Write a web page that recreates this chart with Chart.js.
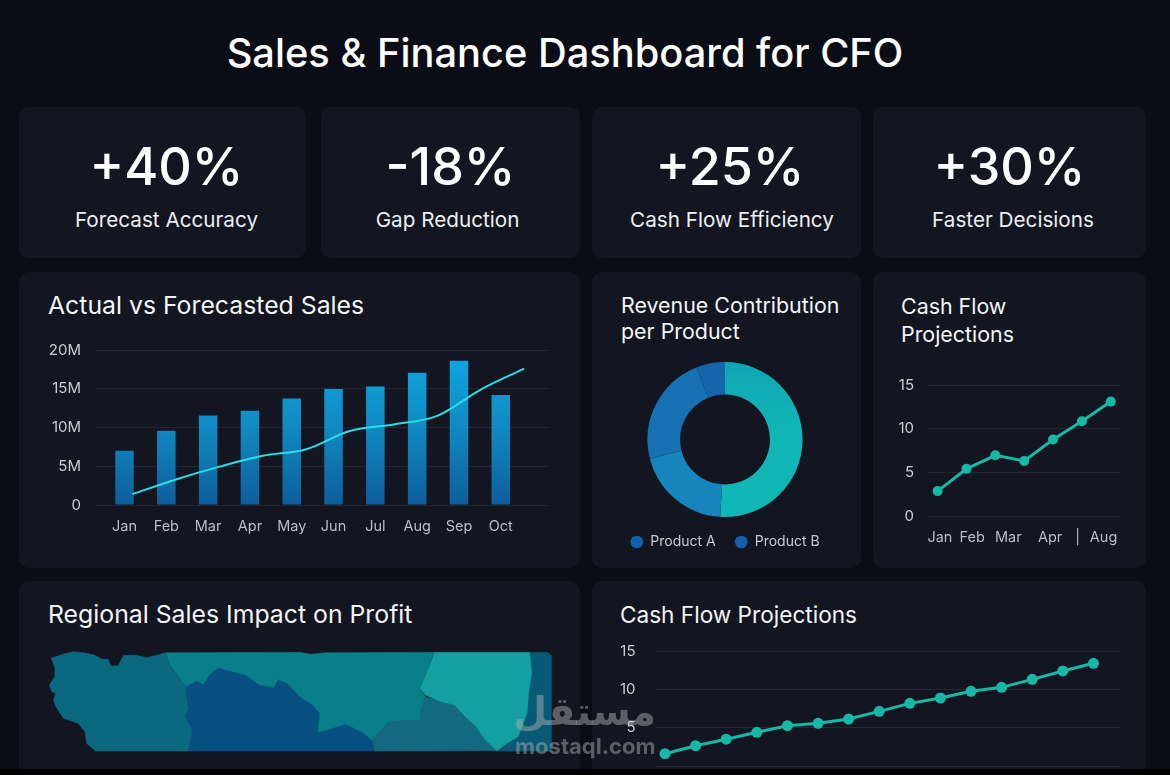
<!DOCTYPE html>
<html><head><meta charset="utf-8">
<script src="https://cdn.jsdelivr.net/npm/chart.js@4"></script>
<style>
html,body{margin:0;padding:0;background:#000;}
body{position:relative;width:1170px;height:775px;overflow:hidden;font-family:Inter,sans-serif;color:#fff;}
#bg{position:absolute;left:0;top:0;width:1170px;height:769px;background:#0b0d16;}
.card{position:absolute;background:#131621;border-radius:10px;}
.t{position:absolute;white-space:nowrap;}
.kv{font-size:52px;font-weight:500;text-align:center;line-height:60px;}
.kl{font-size:20.7px;text-align:center;color:#eceef2;line-height:26px;}
.h{font-size:24.8px;color:#f4f5f7;line-height:27px;}
canvas{position:absolute;display:block;}
.wm{position:absolute;color:rgba(165,167,173,.5);font-weight:700;white-space:nowrap;}
</style></head><body>
<div id="bg"></div>
<div class="t" style="left:0;width:1130px;top:26px;text-align:center;font-size:39.8px;font-weight:500;line-height:54px;">Sales &amp; Finance Dashboard for CFO</div>

<div class="card" style="left:19px;top:107px;width:287px;height:151px"></div>
<div class="card" style="left:321px;top:107px;width:259px;height:151px"></div>
<div class="card" style="left:592px;top:107px;width:269px;height:151px"></div>
<div class="card" style="left:873px;top:107px;width:273px;height:151px"></div>
<div class="card" style="left:19px;top:272px;width:561px;height:296px"></div>
<div class="card" style="left:592px;top:272px;width:269px;height:296px"></div>
<div class="card" style="left:873px;top:272px;width:273px;height:296px"></div>
<div class="card" style="left:19px;top:581px;width:561px;height:188px;border-radius:10px 10px 0 0"></div>
<div class="card" style="left:592px;top:581px;width:554px;height:188px;border-radius:10px 10px 0 0"></div>

<div class="t kv" style="left:19px;width:295px;top:137px">+40%</div>
<div class="t kl" style="left:19px;width:295px;top:207px">Forecast Accuracy</div>
<div class="t kv" style="left:321px;width:259px;top:137px">-18%</div>
<div class="t kl" style="left:318px;width:259px;top:207px">Gap Reduction</div>
<div class="t kv" style="left:592px;width:276px;top:137px">+25%</div>
<div class="t kl" style="left:592px;width:280px;top:207px">Cash Flow Efficiency</div>
<div class="t kv" style="left:873px;width:273px;top:137px">+30%</div>
<div class="t kl" style="left:873px;width:280px;top:207px">Faster Decisions</div>

<div class="t h" style="left:48px;top:292px">Actual vs Forecasted Sales</div>
<div class="t h" style="left:621px;top:292px;font-size:21.4px">Revenue Contribution</div>
<div class="t h" style="left:621px;top:318px;font-size:21.4px">per Product</div>
<div class="t h" style="left:901px;top:293px;font-size:21.4px">Cash Flow</div>
<div class="t h" style="left:901px;top:321px;font-size:21.4px">Projections</div>
<div class="t h" style="left:48px;top:601px">Regional Sales Impact on Profit</div>
<div class="t h" style="left:620px;top:601px;font-size:22.6px">Cash Flow Projections</div>

<canvas id="c1" width="561" height="240" style="left:19px;top:328px"></canvas>
<canvas id="c2" width="269" height="208" style="left:592px;top:352px"></canvas>
<canvas id="c3" width="273" height="190" style="left:873px;top:370px"></canvas>
<canvas id="c4" width="570" height="195" style="left:20px;top:580px"></canvas>

<div class="wm" dir="rtl" style="left:514px;top:684px;width:142px;text-align:center;font-size:39px;line-height:56px;font-family:'DejaVu Sans',sans-serif">مستقل</div>
<div class="wm" style="left:515px;top:734px;font-size:22px;line-height:24px;font-family:Inter,sans-serif">mostaql.com</div>

<canvas id="c5" width="554" height="195" style="left:592px;top:580px"></canvas>
<div style="position:absolute;left:0;top:769px;width:1170px;height:6px;background:#000"></div>

<script>
// ---------- data ----------
const salesMonths = ["Jan","Feb","Mar","Apr","May","Jun","Jul","Aug","Sep","Oct"];
const actualSales = [7.0,9.57,11.55,12.15,13.75,14.96,15.3,17.07,18.6,14.2];
const forecastSales = [1.4,3.3,4.95,6.35,7.2,9.55,10.4,11.5,14.9,17.6];
const forecastAt = [0.19,1.23,2.27,3.31,4.35,5.39,6.44,7.48,8.52,9.56];

const productLabels = ["Product A","Product B","Product C","Product D"];
const productShares = [51,20,23,6];

const cashLabels = ["Jan","Feb","Mar","Apr","|","Aug"];
const cashValues = [2.85,5.4,6.95,6.3,8.75,10.85,13.1];

const longCashValues = [1.6,2.65,3.5,4.4,5.26,5.57,6.13,7.13,8.17,8.87,9.74,10.26,11.3,12.4,13.4];

const regionWest = [[85,235],[120,222],[147,215],[175,218],[205,225],[225,237],[243,238],[250,258],[270,257],[285,226],[320,226],[350,233],[401,218],[412,255],[440,295],[456,320],[458,350],[463,385],[454,410],[474,450],[463,513],[208,513],[183,490],[179,455],[160,430],[119,415],[99,380],[92,360],[98,340],[87,335],[81,315],[96,290],[96,265]];
const regionCentral = [[401,218],[770,217],[800,223],[840,218],[1140,217],[1125,260],[1100,325],[1115,350],[1100,400],[1100,422],[1060,420],[1015,425],[990,455],[968,480],[940,455],[895,432],[860,445],[820,457],[825,400],[805,375],[770,350],[735,310],[710,298],[698,322],[660,315],[620,285],[575,272],[545,263],[520,285],[505,312],[485,303],[456,320],[440,295],[412,255]];
const regionSouth = [[456,320],[485,303],[505,312],[520,285],[545,263],[575,272],[620,285],[660,315],[698,322],[710,298],[735,310],[770,350],[805,375],[825,400],[820,457],[860,445],[895,432],[940,455],[968,480],[973,513],[463,513],[474,450],[454,410],[463,385],[458,350]];
const regionNorthEast = [[1140,217],[1402,217],[1408,280],[1400,330],[1395,400],[1370,470],[1340,490],[1312,512],[1280,480],[1255,440],[1225,410],[1195,375],[1150,362],[1115,345],[1100,325],[1125,260]];
const regionSouthEast = [[1100,422],[1100,400],[1115,350],[1150,362],[1195,375],[1225,410],[1255,440],[1280,480],[1312,512],[973,513],[968,480],[990,455],[1015,425],[1060,420]];
const regionEast = [[1402,217],[1450,217],[1461,225],[1461,513],[1312,513],[1340,490],[1370,470],[1395,400],[1400,330],[1408,280]];

// ---------- shared ----------
Chart.defaults.font.family = "Inter, sans-serif";
Chart.defaults.animation = false;
Chart.defaults.responsive = false;
const gridColor = "rgba(255,255,255,0.075)";
const yTick = "#c9ccd3", xTick = "#b9bdc6";
const pts = a => a.map((v,i)=>({x:i,y:v}));
const noPlug = {legend:{display:false},tooltip:{enabled:false},title:{display:false}};
const fixW = w => function(s){s.width=w;};
const fixH = h => function(s){s.height=h;};
const yGrid = gap => ({color:gridColor,drawTicks:true,tickLength:gap,tickColor:"transparent"});

// ---------- actual vs forecast ----------
new Chart(document.getElementById("c1"),{
  data:{datasets:[
    {type:"line",label:"Forecasted",data:forecastSales.map((v,i)=>({x:forecastAt[i],y:v})),borderColor:"#2bdde6",borderWidth:2,pointRadius:0,cubicInterpolationMode:"monotone",order:0},
    {type:"bar",label:"Actual",data:pts(actualSales),categoryPercentage:1,barPercentage:0.4426,order:1,
     backgroundColor(c){const a=c.chart.chartArea;if(!a)return "#0e8fc8";
       const g=c.chart.ctx.createLinearGradient(0,a.top+15,0,a.bottom);
       g.addColorStop(0,"#0ea3dc");g.addColorStop(.45,"#1189c2");g.addColorStop(1,"#0d5e9b");return g;}}
  ]},
  options:{
    layout:{padding:{top:22,right:32,left:0,bottom:0}},
    plugins:noPlug,
    scales:{
      x:{type:"linear",offset:false,min:-0.706,max:10.13,afterFit:fixH(63),
         afterBuildTicks(s){s.ticks=salesMonths.map((m,i)=>({value:i}));},
         ticks:{callback:v=>salesMonths[v],color:xTick,font:{size:14.5},padding:5,maxRotation:0,autoSkip:false},
         grid:{display:false},border:{display:false}},
      y:{min:0,max:20,afterFit:fixW(76),
         ticks:{stepSize:5,callback:v=>v===0?"0":v+"M",color:yTick,font:{size:15},padding:0},
         grid:yGrid(14),border:{display:false}}
    }
  }
});

// ---------- donut ----------
const legendColor = "#1560ab";
new Chart(document.getElementById("c2"),{
  type:"doughnut",
  plugins:[{id:"legendShift",afterLayout(ch){ch.legend.top-=1;}}],
  data:{labels:productLabels,datasets:[{data:productShares,borderWidth:0,
    backgroundColor(c){
      const a=c.chart.chartArea;const i=c.dataIndex;
      if(i===0&&a){const g=c.chart.ctx.createLinearGradient(0,a.top,0,a.top+70);g.addColorStop(0,"#12a4b4");g.addColorStop(1,"#10b7b6");return g;}
      return ["#10b7b6","#1585bb","#1670b1","#1565ab"][i];
    }}]},
  options:{
    cutout:"58%",
    layout:{padding:{top:10,right:3}},
    plugins:{tooltip:{enabled:false},
      legend:{position:"bottom",labels:{
        usePointStyle:true,pointStyle:"circle",boxWidth:13,boxHeight:9,padding:19,color:"#c6cad2",font:{size:14},
        generateLabels(ch){return productLabels.slice(0,2).map((t,i)=>({text:t,fillStyle:legendColor,strokeStyle:legendColor,lineWidth:0,pointStyle:"circle",fontColor:"#c6cad2",index:i}));}
      }}
    }
  }
});

// ---------- small cash flow ----------
const cashLine = {borderColor:"#17b8a6",backgroundColor:"#17b8a6",borderWidth:3,pointRadius:5,pointBackgroundColor:"#17b8a6",pointBorderWidth:0,tension:0};
new Chart(document.getElementById("c3"),{
  type:"line",
  data:{datasets:[Object.assign({label:"Cash Flow",data:pts(cashValues)},cashLine)]},
  options:{
    layout:{padding:{top:15,right:26,left:0,bottom:0}},
    plugins:noPlug,
    scales:{
      x:{type:"linear",min:-0.333,max:6.32,afterFit:fixH(44),
         afterBuildTicks(s){s.ticks=[0.08,1.2,2.45,3.9,4.85,5.75].map(v=>({value:v}));},
         ticks:{callback:(v,i)=>cashLabels[i],color:xTick,font:{size:14.5},padding:5,maxRotation:0,autoSkip:false},
         grid:{display:false},border:{display:false}},
      y:{min:0,max:15,afterFit:fixW(55),
         ticks:{stepSize:5,color:yTick,font:{size:15},padding:0},
         grid:yGrid(14),border:{display:false}}
    }
  }
});

// ---------- regional map ----------
const regionStyle=(name,data,color)=>({label:name,data:data.map(p=>({x:p[0],y:p[1]})),fill:"shape",backgroundColor:color,borderColor:color,borderWidth:0.5,pointRadius:0,tension:0,parsing:false,normalized:false});
new Chart(document.getElementById("c4"),{
  type:"line",
  data:{datasets:[
    regionStyle("West",regionWest,"#0a687f"),
    regionStyle("Central",regionCentral,"#0a7f8c"),
    regionStyle("South",regionSouth,"#064f80"),
    regionStyle("North East",regionNorthEast,"#14a0a0"),
    regionStyle("South East",regionSouthEast,"#136a80"),
    regionStyle("East",regionEast,"#075a75")
  ]},
  options:{
    layout:{padding:0},
    plugins:noPlug,
    scales:{
      x:{type:"linear",min:0,max:1568,display:false},
      y:{type:"linear",min:0,max:585,reverse:true,display:false}
    }
  }
});

// ---------- long cash flow ----------
new Chart(document.getElementById("c5"),{
  type:"line",
  data:{datasets:[Object.assign({label:"Cash Flow",data:pts(longCashValues),clip:false},cashLine,{pointRadius:5.5})]},
  options:{
    layout:{padding:{top:71,right:25,left:0,bottom:9}},
    plugins:noPlug,
    scales:{
      x:{type:"linear",min:-0.31,max:14.9,display:false},
      y:{min:0,max:15,afterFit:fixW(63.5),
         ticks:{stepSize:5,color:yTick,font:{size:15},padding:0,callback:v=>v===0?"":v},
         grid:yGrid(20),border:{display:false}}
    }
  }
});
</script>
</body></html>
